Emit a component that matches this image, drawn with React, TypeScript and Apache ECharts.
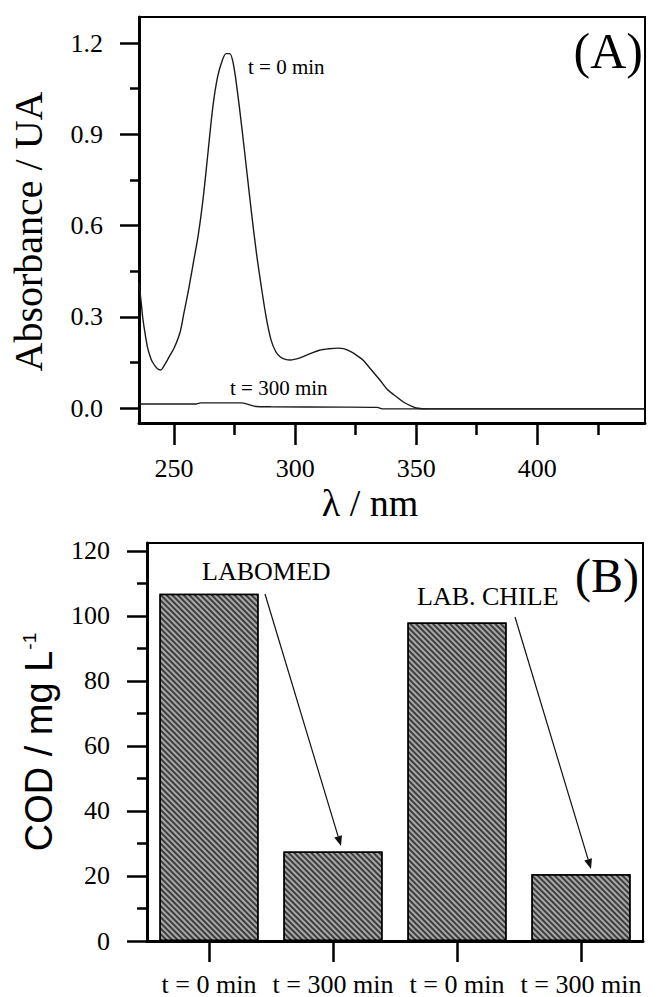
import React, { useEffect, useRef } from "react";
import * as echarts from "echarts";

// ---------- Panel (A) data ----------
const wavelength0 = [
  235.5, 236.5, 237, 238, 239, 240, 241, 243, 244.5, 246, 248, 250, 252.5, 254, 256, 258, 260, 262, 264,
  266, 268, 270, 271.5, 273, 274.5, 276, 278, 280, 282, 284, 286, 288, 290, 292, 294, 296, 298, 302, 306,
  310, 314, 318, 320, 323, 326, 328, 331, 335, 338, 342, 345, 348, 350, 355, 380, 420, 444.5,
];
const absorbance0 = [
  0.41, 0.34, 0.3, 0.245, 0.2, 0.172, 0.152, 0.13, 0.125, 0.141, 0.169, 0.197, 0.25, 0.31, 0.39, 0.48, 0.57,
  0.69, 0.84, 0.99, 1.09, 1.145, 1.165, 1.165, 1.13, 1.05, 0.92, 0.78, 0.64, 0.51, 0.4, 0.3, 0.225, 0.185,
  0.167, 0.16, 0.158, 0.165, 0.178, 0.19, 0.195, 0.197, 0.195, 0.185, 0.17, 0.158, 0.13, 0.092, 0.062,
  0.036, 0.018, 0.006, 0.0, -0.003, -0.003, -0.003, -0.003,
];
const wavelength300 = [235.5, 250, 259, 261, 278, 283, 290, 320, 334, 336, 380, 444.5];
const absorbance300 = [0.013, 0.013, 0.013, 0.017, 0.017, 0.006, 0.004, 0.003, 0.002, -0.003, -0.003, -0.003];

const xTicksA = [250, 300, 350, 400];
const xMinorTicksA = [275, 325, 375, 425];
const yTicksA = [0, 0.3, 0.6, 0.9, 1.2];
const yMinorTicksA = [0.15, 0.45, 0.75, 1.05];

// ---------- Panel (B) data ----------
const codCategories = ["t = 0 min", "t = 300 min", "t = 0 min", "t = 300 min"];
const codValues = [106.8, 27.5, 98, 20.5];
const yTicksB = [0, 20, 40, 60, 80, 100, 120];
const yMinorTicksB = [10, 30, 50, 70, 90, 110];

const serif = "'Liberation Serif', 'Times New Roman', serif";
const sans = "'Liberation Sans', Arial, sans-serif";

function pairs(xs: number[], ys: number[]) {
  return xs.map((x, i) => [x, ys[i]]);
}

function arrow(x1: number, y1: number, x2: number, y2: number) {
  const dx = x2 - x1;
  const dy = y2 - y1;
  const len = Math.hypot(dx, dy);
  const ux = dx / len;
  const uy = dy / len;
  const hl = 10;
  const hw = 4;
  const bx = x2 - ux * hl;
  const by = y2 - uy * hl;
  return [
    {
      type: "line",
      shape: { x1, y1, x2: bx, y2: by },
      style: { stroke: "#111", lineWidth: 1.2 },
    },
    {
      type: "polygon",
      shape: {
        points: [
          [x2, y2],
          [bx - uy * hw, by + ux * hw],
          [bx + uy * hw, by - ux * hw],
        ],
      },
      style: { fill: "#111" },
    },
  ];
}

export default function App() {
  const ref = useRef<HTMLDivElement>(null);

  useEffect(() => {
    if (!ref.current) return;
    const chart = echarts.init(ref.current, null, { renderer: "svg" });

    const tickLabel = { color: "#000", fontFamily: serif, fontSize: 26 };

    const option: any = {
      animation: false,
      backgroundColor: "#fff",
      grid: [
        { left: 139, top: 17, width: 506, height: 406, show: true, borderColor: "#000", borderWidth: 2, containLabel: false },
        { left: 147, top: 543, width: 496, height: 400, show: true, borderColor: "#000", borderWidth: 2, containLabel: false },
      ],
      xAxis: [
        {
          type: "value",
          gridIndex: 0,
          position: "bottom",
          min: 235.5,
          max: 444.5,
          splitLine: { show: false },
          axisLine: { show: true, onZero: false, lineStyle: { color: "#000", width: 3 } },
          axisTick: { show: true, customValues: xTicksA, length: 22, lineStyle: { color: "#000", width: 2.5 } },
          axisLabel: { ...tickLabel, customValues: xTicksA, margin: 32 },
        },
        {
          type: "value",
          gridIndex: 0,
          position: "bottom",
          min: 235.5,
          max: 444.5,
          splitLine: { show: false },
          axisLine: { show: false, onZero: false },
          axisTick: { show: true, customValues: xMinorTicksA, length: 12, lineStyle: { color: "#000", width: 2.5 } },
          axisLabel: { show: false },
        },
        {
          type: "category",
          gridIndex: 1,
          position: "bottom",
          data: codCategories,
          boundaryGap: true,
          axisLine: { show: true, onZero: false, lineStyle: { color: "#000", width: 3 } },
          axisTick: { show: true, alignWithLabel: true, length: 21, lineStyle: { color: "#000", width: 2.5 } },
          axisLabel: { ...tickLabel, interval: 0, margin: 30 },
        },
      ],
      yAxis: [
        {
          type: "value",
          gridIndex: 0,
          position: "left",
          min: -0.0493,
          max: 1.2855,
          splitLine: { show: false },
          axisLine: { show: true, onZero: false, lineStyle: { color: "#000", width: 3 } },
          axisTick: { show: true, customValues: yTicksA, length: 19, lineStyle: { color: "#000", width: 2.5 } },
          axisLabel: { ...tickLabel, customValues: yTicksA, margin: 36, formatter: (v: number) => v.toFixed(1) },
        },
        {
          type: "value",
          gridIndex: 0,
          position: "left",
          min: -0.0493,
          max: 1.2855,
          splitLine: { show: false },
          axisLine: { show: false, onZero: false },
          axisTick: { show: true, customValues: yMinorTicksA, length: 9, lineStyle: { color: "#000", width: 2.5 } },
          axisLabel: { show: false },
        },
        {
          type: "value",
          gridIndex: 1,
          position: "left",
          min: 0,
          max: 122.45,
          splitLine: { show: false },
          axisLine: { show: true, onZero: false, lineStyle: { color: "#000", width: 3 } },
          axisTick: { show: true, customValues: yTicksB, length: 20, lineStyle: { color: "#000", width: 2.5 } },
          axisLabel: { ...tickLabel, customValues: yTicksB, margin: 37 },
          name: "{main|COD / mg L}{sup|-1}",
          nameLocation: "middle",
          nameGap: 89,
          nameTextStyle: {
            color: "#000",
            rich: {
              main: { fontFamily: sans, fontSize: 38, color: "#000" },
              sup: { fontFamily: sans, fontSize: 19, color: "#000", verticalAlign: "top", padding: [0, 0, 14, 1] },
            },
          },
        },
        {
          type: "value",
          gridIndex: 1,
          position: "left",
          min: 0,
          max: 122.45,
          splitLine: { show: false },
          axisLine: { show: false, onZero: false },
          axisTick: { show: true, customValues: yMinorTicksB, length: 10, lineStyle: { color: "#000", width: 2.5 } },
          axisLabel: { show: false },
        },
      ],
      series: [
        {
          name: "t = 0 min",
          type: "line",
          xAxisIndex: 0,
          yAxisIndex: 0,
          data: pairs(wavelength0, absorbance0),
          smooth: 0.3,
          showSymbol: false,
          lineStyle: { color: "#1a1a1a", width: 1.4 },
        },
        {
          name: "t = 300 min",
          type: "line",
          xAxisIndex: 0,
          yAxisIndex: 0,
          data: pairs(wavelength300, absorbance300),
          smooth: 0.2,
          showSymbol: false,
          lineStyle: { color: "#1a1a1a", width: 1.4 },
        },
        {
          name: "COD",
          type: "bar",
          xAxisIndex: 2,
          yAxisIndex: 2,
          data: codValues,
          barWidth: "80%",
          itemStyle: {
            color: "#3d3d3d",
            borderColor: "#000",
            borderWidth: 1.5,
            decal: {
              symbol: "rect",
              symbolSize: 1,
              color: "#a8a8a8",
              dashArrayX: [1, 0],
              dashArrayY: [1.4, 1.6],
              rotation: Math.PI / 4,
            },
          },
        },
      ],
      graphic: [
        {
          type: "text",
          x: 28.5,
          y: 231.5,
          rotation: Math.PI / 2,
          style: { text: "Absorbance / UA", font: `40px ${serif}`, fill: "#000", align: "center", verticalAlign: "middle" },
        },
        {
          type: "text",
          x: 370,
          y: 503,
          style: { text: "λ / nm", font: `38px ${serif}`, fill: "#000", align: "center", verticalAlign: "middle" },
        },
        { type: "text", left: 248, top: 56, style: { text: "t = 0 min", font: `21px ${serif}`, fill: "#000" } },
        { type: "text", left: 230, top: 377, style: { text: "t = 300 min", font: `21px ${serif}`, fill: "#000" } },
        { type: "text", right: 15, top: 26, style: { text: "(A)", font: `50px ${serif}`, fill: "#000" } },
        { type: "text", left: 202, top: 558, style: { text: "LABOMED", font: `26px ${serif}`, fill: "#000" } },
        { type: "text", left: 417, top: 583, style: { text: "LAB. CHILE", font: `26px ${serif}`, fill: "#000" } },
        { type: "text", right: 19, top: 551, style: { text: "(B)", font: `48px ${serif}`, fill: "#000" } },
        ...arrow(265, 594, 341, 846),
        ...arrow(515, 617, 591, 869),
      ],
    };

    chart.setOption(option);
    return () => chart.dispose();
  }, []);

  return (
    <div
      ref={ref}
      style={{ position: "absolute", left: 0, top: 0, width: 658, height: 997, background: "#fff" }}
    />
  );
}
